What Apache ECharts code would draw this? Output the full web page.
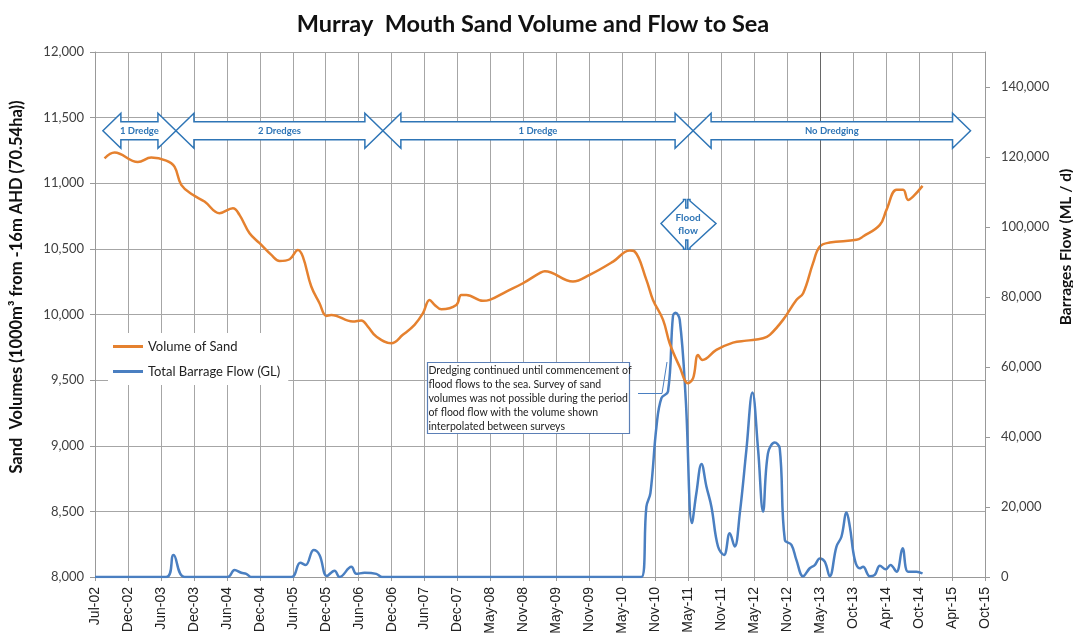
<!DOCTYPE html>
<html>
<head>
<meta charset="utf-8">
<script src="https://cdn.jsdelivr.net/npm/echarts@6/dist/echarts.min.js"></script>
<style>
  html, body { margin: 0; padding: 0; background: #fff; }
  #container { width: 1073px; height: 640px; }
</style>
</head>
<body>
<div id="container"></div>
<script>
// days counted from 1 Jul 2002 (the x axis runs in 180-day steps)
const sandDay = [52, 107, 234, 307, 389, 434, 471, 534, 598, 680, 753, 789, 844, 899, 963, 1008, 1063, 1108, 1135, 1181,
  1226, 1263, 1290, 1408, 1454, 1490, 1536, 1618, 1681, 1745, 1791, 1827, 1855, 1891, 1973, 2000, 2028, 2118, 2155, 2246,
  2337, 2428, 2456, 2610, 2701, 2829, 2920, 2947, 3011, 3047, 3102, 3138, 3193, 3238, 3266, 3293, 3317, 3393, 3484, 3557,
  3648, 3685, 3757, 3830, 3867, 3921, 3958, 4012, 4158, 4194, 4286, 4322, 4377, 4413, 4440, 4467, 4519];
const sandVolume = [11190, 11234, 11161, 11196, 11173, 11127, 10988, 10912, 10861, 10772, 10810, 10759, 10619, 10543, 10454, 10408, 10421, 10492, 10441, 10213,
  10086, 9989, 9997, 9946, 9954, 9908, 9832, 9781, 9845, 9921, 10010, 10111, 10073, 10040, 10073, 10149, 10149, 10104, 10111, 10175,
  10238, 10315, 10330, 10251, 10302, 10403, 10487, 10480, 10264, 10111, 9959, 9781, 9600, 9476, 9515, 9692, 9654, 9730, 9786, 9801,
  9819, 9845, 9959, 10111, 10162, 10391, 10518, 10548, 10569, 10594, 10683, 10797, 10950, 10950, 10873, 10898, 10980];

const flowDay = [0, 389, 429, 489, 725, 762, 799, 826, 853, 1072, 1121, 1150, 1194, 1226, 1266, 1308, 1336, 1400, 1427, 1472,
  1536, 1569, 2984, 3011, 3033, 3066, 3093, 3129, 3156, 3170, 3193, 3226, 3260, 3284, 3312, 3339, 3366, 3402, 3435, 3466,
  3493, 3521, 3557, 3590, 3621, 3648, 3675, 3712, 3739, 3767, 3803, 3830, 3867, 3903, 3930, 3958, 3985, 4012, 4049, 4076,
  4104, 4122, 4149, 4176, 4194, 4231, 4258, 4286, 4318, 4344, 4377, 4410, 4440, 4486, 4519];
const flowValue = [0, 0, 6300, 0, 0, 2000, 1200, 900, 0, 0, 4100, 3400, 7700, 6300, 300, 1800, 0, 2900, 900, 1200,
  900, 0, 0, 20100, 24000, 43000, 51100, 53000, 74500, 75500, 73500, 50600, 15400, 24000, 32300, 25800, 20100, 8700, 6300, 12500,
  8700, 18200, 36300, 52700, 36300, 18700, 35400, 38400, 36800, 10600, 9200, 4900, 200, 2500, 3400, 5300, 4400, 200, 8700, 11500,
  18400, 14400, 4900, 2500, 2900, 200, 600, 3200, 2200, 3400, 1500, 8200, 1500, 1500, 1000];

const periodLabels = ["1 Dredge", "2 Dredges", "1 Dredge", "No Dredging"];
const periodBounds = [43, 442, 1572, 3266, 4781];
const may13Day = 3960;

const months = ["Jan", "Feb", "Mar", "Apr", "May", "Jun", "Jul", "Aug", "Sep", "Oct", "Nov", "Dec"];
const startMs = Date.UTC(2002, 6, 1);

function dayLabel(v) {
  const d = new Date(startMs + v * 86400000);
  return months[d.getUTCMonth()] + "-" + String(d.getUTCFullYear() % 100).padStart(2, "0");
}

const dom = document.getElementById("container");
const myChart = echarts.init(dom, null, { renderer: "canvas" });

const blue = "#2e75b6";
const calibri = "Lato";

const option = {
  animation: false,
  title: {
    text: "Murray  Mouth Sand Volume and Flow to Sea",
    left: 528,
    textAlign: "center",
    top: 7,
    textStyle: { fontFamily: calibri, fontSize: 23.5, fontWeight: "bold", color: "#111" },
  },
  legend: {
    left: 108,
    top: 333,
    orient: "vertical",
    data: ["Volume of Sand", "Total Barrage Flow (GL)"],
    icon: "rect",
    itemWidth: 30,
    itemHeight: 3,
    itemGap: 12,
    padding: [7, 8, 7, 5],
    backgroundColor: "#fff",
    textStyle: { fontFamily: calibri, fontSize: 13, color: "#222" },
  },
  grid: { left: 95, right: 88, top: 52, bottom: 63 },
  xAxis: {
    type: "value",
    min: 0,
    max: 4860,
    interval: 180,
    axisLine: { show: true, onZero: false, lineStyle: { color: "#999" } },
    axisTick: { show: true, length: 4, lineStyle: { color: "#999" } },
    splitLine: { show: true, lineStyle: { color: "#a6a6a6", width: 1 } },
    axisLabel: {
      rotate: 90,
      margin: 10,
      fontFamily: "Liberation Sans",
      fontSize: 14,
      color: "#222",
      formatter: dayLabel,
    },
  },
  yAxis: [
    {
      type: "value",
      min: 8000,
      max: 12000,
      interval: 500,
      axisLine: { show: true, lineStyle: { color: "#999" } },
      axisTick: { show: true, length: 5, lineStyle: { color: "#999" } },
      splitLine: { show: true, lineStyle: { color: "#a6a6a6", width: 1 } },
      axisLabel: { fontFamily: calibri, fontSize: 13, color: "#404040", margin: 11 },
    },
    {
      type: "value",
      min: 0,
      max: 150000,
      interval: 20000,
      position: "right",
      axisLine: { show: true, lineStyle: { color: "#999" } },
      axisTick: { show: true, length: 5, lineStyle: { color: "#999" } },
      splitLine: { show: false },
      axisLabel: { fontFamily: calibri, fontSize: 13, color: "#404040", margin: 16, showMaxLabel: false },
    },
  ],
  series: [
    {
      name: "Total Barrage Flow (GL)",
      type: "line",
      yAxisIndex: 1,
      data: flowDay.map((d, i) => [d, flowValue[i]]),
      smooth: 0.4,
      showSymbol: false,
      lineStyle: { color: "#4a7fc1", width: 2.5 },
      itemStyle: { color: "#4a7fc1" },
    },
    {
      name: "Volume of Sand",
      type: "line",
      yAxisIndex: 0,
      data: sandDay.map((d, i) => [d, sandVolume[i]]),
      smooth: 0.4,
      showSymbol: false,
      lineStyle: { color: "#e5812f", width: 2.5 },
      itemStyle: { color: "#e5812f" },
      markLine: {
        silent: true,
        symbol: "none",
        label: { show: false },
        lineStyle: { color: "#666", width: 1, type: "solid" },
        data: [{ xAxis: may13Day }],
      },
    },
  ],
};

myChart.setOption(option);

// annotation shapes
function arrowPoints(x1, x2, yc) {
  const h = 17.5, b = 9, L = 18;
  return [
    [x1, yc], [x1 + L, yc - h], [x1 + L, yc - b], [x2 - L, yc - b], [x2 - L, yc - h],
    [x2, yc], [x2 - L, yc + h], [x2 - L, yc + b], [x1 + L, yc + b], [x1 + L, yc + h],
  ];
}

const graphics = [];
const yc = 130.7;
periodLabels.forEach((label, i) => {
  const x1 = myChart.convertToPixel({ gridIndex: 0 }, [periodBounds[i], 8000])[0];
  const x2 = myChart.convertToPixel({ gridIndex: 0 }, [periodBounds[i + 1], 8000])[0];
  graphics.push({
    type: "polygon",
    shape: { points: arrowPoints(x1, x2, yc) },
    style: { fill: "#fff", stroke: blue, lineWidth: 1.5 },
    z: 10,
  });
  graphics.push({
    type: "text",
    x: (x1 + x2) / 2,
    y: yc,
    style: {
      text: label, fill: blue, fontFamily: calibri, fontSize: 9.5, fontWeight: "bold",
      align: "center", verticalAlign: "middle",
    },
    z: 11,
  });
});

// flood flow marker
graphics.push({
  type: "polygon",
  shape: {
    points: [
      [661, 223.5], [683.5, 201], [683.5, 199.5], [685.8, 199.5], [685.8, 208], [687.8, 208], [687.8, 199.5],
      [690, 199.5], [690, 201], [716, 223.5], [690, 247.5], [690, 249.3], [687.8, 249.3], [687.8, 240],
      [685.8, 240], [685.8, 249.3], [683.5, 249.3], [683.5, 247.5],
    ],
  },
  style: { fill: "#fff", stroke: blue, lineWidth: 1.5 },
  z: 10,
});
graphics.push({
  type: "text",
  x: 688,
  y: 224,
  style: {
    text: "Flood\nflow", fill: blue, fontFamily: calibri, fontSize: 10, fontWeight: "bold",
    align: "center", verticalAlign: "middle", lineHeight: 13,
  },
  z: 11,
});

// callout
graphics.push({
  type: "rect",
  shape: { x: 427.5, y: 362.5, width: 202, height: 71 },
  style: { fill: "#fff", stroke: "#5b7fb6", lineWidth: 1.2 },
  z: 10,
});
graphics.push({
  type: "text",
  x: 428.5,
  y: 364,
  style: {
    text: "Dredging continued until commencement of\nflood flows to the sea. Survey of sand\nvolumes was not possible during the period\nof flood flow with the volume shown\ninterpolated between surveys",
    fill: "#222", fontFamily: calibri, fontSize: 10.5, lineHeight: 13.9,
    align: "left", verticalAlign: "top",
  },
  z: 11,
});
graphics.push({
  type: "polyline",
  shape: { points: [[638, 393.5], [662, 393.5], [667, 362]] },
  style: { stroke: "#4a7fc1", lineWidth: 1, fill: null },
  z: 10,
});

// axis titles
graphics.push({
  type: "text",
  x: 17,
  y: 287,
  rotation: Math.PI / 2,
  style: {
    text: "Sand  Volumes (1000m³ from -16m AHD (70.54ha))", fill: "#111", fontFamily: calibri,
    fontSize: 16.5, fontWeight: "bold", align: "center", verticalAlign: "middle",
  },
});
graphics.push({
  type: "text",
  x: 1066,
  y: 247,
  rotation: Math.PI / 2,
  style: {
    text: "Barrages Flow (ML / d)", fill: "#111", fontFamily: calibri,
    fontSize: 15.5, fontWeight: "bold", align: "center", verticalAlign: "middle",
  },
});

myChart.setOption({ graphic: graphics });

window.addEventListener("resize", myChart.resize);
</script>
</body>
</html>
